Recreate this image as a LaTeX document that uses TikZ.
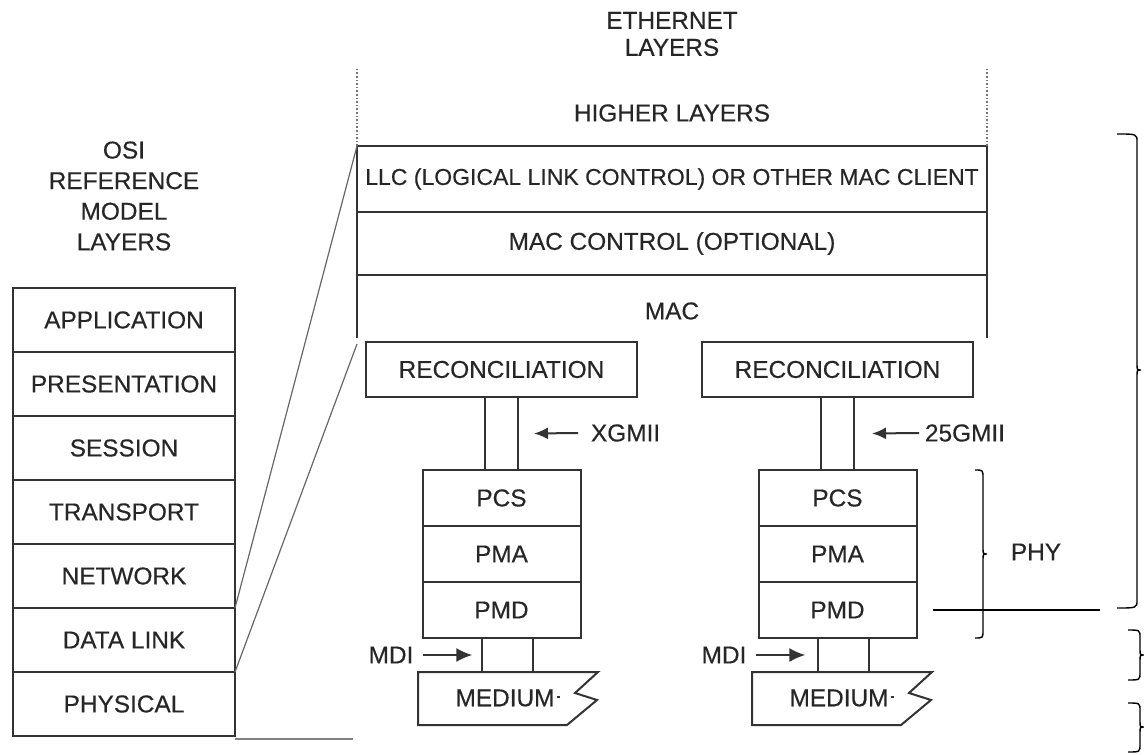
\documentclass[tikz,border=0pt]{standalone}
\usepackage{fontspec}
\setmainfont[FakeBold=0.4]{Liberation Sans}
\usetikzlibrary{positioning,arrows.meta}

% right-pointing curly bracket: x of ends, x of spine, y top, y tip, y bottom
\newcommand{\sidebrace}[5]{%
	\draw[brace line] (#1,#3) .. controls (#2,#3) .. ({#2},{#3+8}) -- ({#2},{#4-6})
	.. controls (#2,#4) .. ({#2+4},#4) .. controls (#2,#4) .. ({#2},{#4+6})
	-- ({#2},{#5-8}) .. controls (#2,#5) .. (#1,#5);}

\begin{document}
\begin{tikzpicture}[
	x=0.5pt, y=-0.5pt,
	every node/.style = {font=\fontsize{12.2}{15.3}\selectfont,
		text=black!85, inner sep=0pt, outer sep=0pt},
	osi/.style = {draw=black!80, line width=1pt,
		minimum width=111pt, minimum height=32pt},
	eth/.style = {draw=black!80, line width=1pt, minimum width=315pt},
	recon/.style = {draw=black!80, line width=1pt,
		minimum width=135.5pt, minimum height=27.5pt},
	mii/.style = {draw=black!80, line width=1pt,
		minimum width=16.5pt, minimum height=36.5pt},
	sub/.style = {draw=black!80, line width=1pt,
		minimum width=79pt, minimum height=28pt},
	wire/.style = {black!80, line width=1pt},
	zoom line/.style = {black!60, line width=0.6pt},
	brace line/.style = {black, line width=0.7pt}]
	\useasboundingbox (0,0) rectangle (1144,754);

	% OSI stack
	\node[align=center] (osititle) at (124,196) {OSI\\REFERENCE\\MODEL\\LAYERS};
	\node[osi] (app) at (124,320) {APPLICATION};
	\node[osi, below=0pt of app] (pres) {PRESENTATION};
	\node[osi, below=0pt of pres] (sess) {SESSION};
	\node[osi, below=0pt of sess] (trans) {TRANSPORT};
	\node[osi, below=0pt of trans] (net) {NETWORK};
	\node[osi, below=0pt of net] (dl) {DATA LINK};
	\node[osi, below=0pt of dl] (phys) {PHYSICAL};
	\coordinate (gnd) at (353,739);
	\draw[black!50, line width=1.2pt] (phys.south east |- gnd) -- (gnd);

	% Ethernet layers
	\node[align=center, font=\fontsize{12.2}{13.5}\selectfont] (ethtitle) at (672,34) {ETHERNET\\LAYERS};
	\node (higher) at (672,113) {HIGHER LAYERS};
	\node[eth, minimum height=33pt, font=\fontsize{11.5}{14}\selectfont] (llc) at (672,179)
		{LLC (LOGICAL LINK CONTROL) OR OTHER MAC CLIENT};
	\node[eth, minimum height=31.5pt, below=0pt of llc] (macctrl) {MAC CONTROL (OPTIONAL)};
	\node (mac) at (672,311) {MAC};
	\coordinate (macbot) at (672,338);
	\draw[wire] (macctrl.south west) -- (macctrl.south west |- macbot);
	\draw[wire] (macctrl.south east) -- (macctrl.south east |- macbot);
	\draw[black!55, densely dotted, line width=0.8pt] (llc.north west) -- ++(0,-78);
	\draw[black!55, densely dotted, line width=0.8pt] (llc.north east) -- ++(0,-78);

	\draw[zoom line] (dl.north east) -- (llc.north west);
	\draw[zoom line] (dl.south east) -- ([yshift=-3pt]macctrl.south west |- macbot);

	% left PHY stack
	\node[recon] (reconl) at (501.5,369.5) {RECONCILIATION};
	\node[mii, below=0pt of reconl] (miil) {};
	\node[sub, below=0pt of miil] (pcsl) {PCS};
	\node[sub, below=0pt of pcsl] (pmal) {PMA};
	\node[sub, below=0pt of pmal] (pmdl) {PMD};
	\node[anchor=west] (xgmii) at (591,433) {XGMII};
	\draw[wire, -{Latex[length=7pt,width=6pt]}] ([xshift=-6.5pt]xgmii.west) -- ([xshift=8pt]miil.east);
	\draw[wire] ([xshift=-10pt]pmdl.south) -- ++(0,34);
	\draw[wire] ([xshift=15.5pt]pmdl.south) -- ++(0,34);
	\node (mdil) at (391,655) {MDI};
	\draw[wire, -{Latex[length=8pt,width=7pt]}] ([xshift=5pt]mdil.east) -- ++(49,0);
	\node (medl) at (505,698) {MEDIUM};
	\draw[wire] (418,672) -- (598,672) -- (575,693) -- (597,700) -- (567,725) -- (418,725) -- cycle;
	\draw[wire] (557,697) -- (560,697);

	% right PHY stack
	\node[recon] (reconr) at (837.5,369.5) {RECONCILIATION};
	\node[mii, below=0pt of reconr] (miir) {};
	\node[sub, below=0pt of miir] (pcsr) {PCS};
	\node[sub, below=0pt of pcsr] (pmar) {PMA};
	\node[sub, below=0pt of pmar] (pmdr) {PMD};
	\node[anchor=west] (gmii) at (925,433) {25GMII};
	\draw[wire, -{Latex[length=7pt,width=6pt]}] ([xshift=-3pt]gmii.west) -- ([xshift=9pt]miir.east);
	\draw[wire] ([xshift=-10pt]pmdr.south) -- ++(0,34);
	\draw[wire] ([xshift=15.5pt]pmdr.south) -- ++(0,34);
	\node (mdir) at (724,655) {MDI};
	\draw[wire, -{Latex[length=8pt,width=7pt]}] ([xshift=5pt]mdir.east) -- ++(49,0);
	\node (medr) at (839,698) {MEDIUM};
	\draw[wire] (752,672) -- (932,672) -- (909,693) -- (931,700) -- (901,725) -- (752,725) -- cycle;
	\draw[wire] (891,697) -- (894,697);

	% braces
	\sidebrace{975}{983}{470}{554}{638}
	\node (phy) at (1036,552) {PHY};
	\draw[brace line] ([xshift=8pt]pmdr.east) -- ++(167,0);
	\sidebrace{1117}{1137}{134}{370}{608}
	\sidebrace{1128}{1140}{630}{655}{680}
	\sidebrace{1128}{1140}{703}{727}{752}
\end{tikzpicture}
\end{document}
